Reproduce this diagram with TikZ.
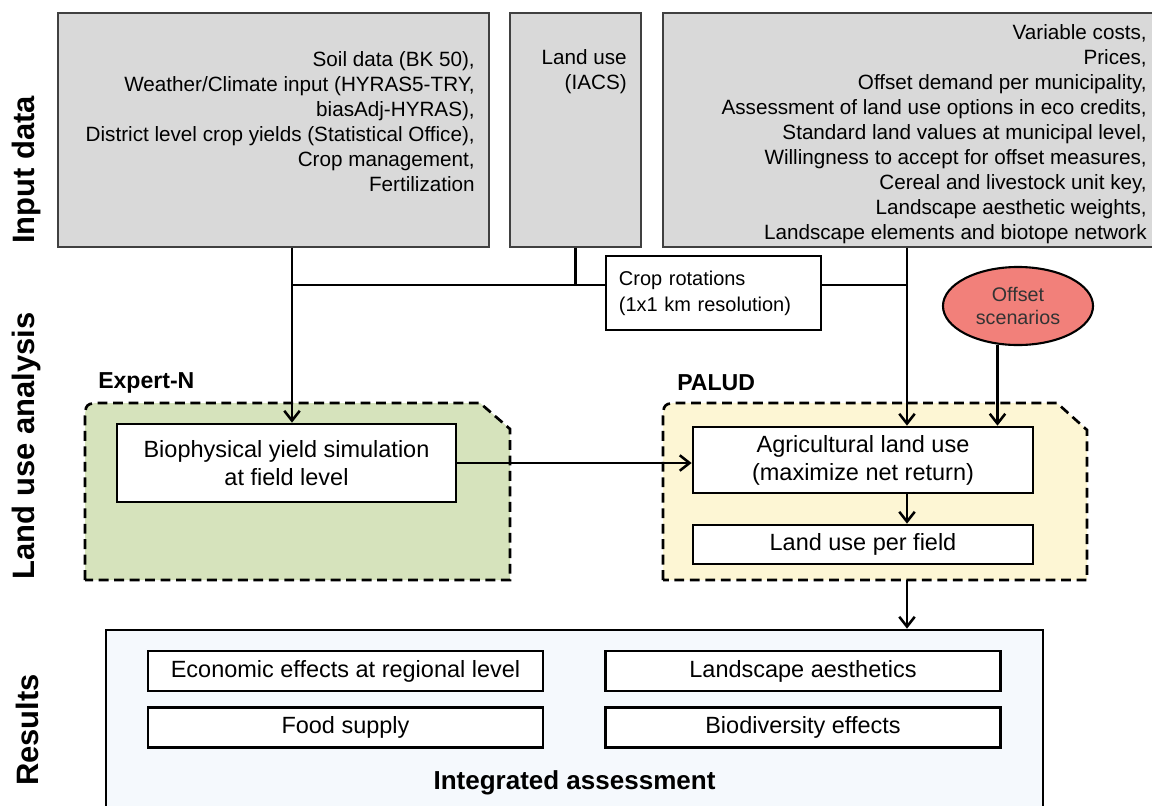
\documentclass[tikz,border=0pt]{standalone}
\usepackage{fontspec}
\setmainfont{Liberation Sans}
\usepackage{xcolor}
\usepackage{tikz}
\usetikzlibrary{shapes.geometric, arrows.meta, positioning, calc}
\definecolor{mygray}{RGB}{217,217,217}
\definecolor{mygreen}{RGB}{214,227,188}
\definecolor{myyellow}{RGB}{253,246,212}
\definecolor{myred}{RGB}{242,128,122}
\definecolor{myblue}{RGB}{245,249,253}
\tikzstyle{inbox} = [rectangle, draw=black!75, line width=0.9pt, fill=mygray, inner sep=0pt]
\tikzstyle{intext} = [font=\fontsize{14.7}{17.8}\selectfont, align=right, inner sep=0pt]
\tikzstyle{model} = [rectangle, draw=black, line width=1.9pt, fill=white, font=\fontsize{16.7}{19.9}\selectfont, align=center]
\tikzstyle{resbox} = [model, minimum width=9.875cm, minimum height=1.0cm]
\tikzstyle{region} = [dash pattern=on 7pt off 4pt, line width=1.9pt]
\tikzstyle{tag} = [font=\fontsize{16.4}{20}\selectfont\bfseries, anchor=west, inner sep=0pt]
\tikzstyle{section} = [font=\fontsize{22}{26}\selectfont\bfseries, rotate=90]
\tikzstyle{link} = [line width=1.8pt]
\tikzstyle{arrow} = [link, -{Straight Barb[length=7pt, width=11pt]}]

\begin{document}
\begin{tikzpicture}[x=0.025cm, y=-0.025cm]
    \useasboundingbox (0,0) rectangle (1152,805);
    \fill[white] (0,0) rectangle (1152,805);
    % input data
    \node[inbox, minimum width=10.775cm, minimum height=5.85cm] (soil) at (273.5,130) {};
    \node[intext, anchor=east] (soiltext) at (475,121.5) {Soil data (BK 50),\\ Weather/Climate input (HYRAS5-TRY,\\ biasAdj-HYRAS),\\ District level crop yields (Statistical Office),\\ Crop management,\\ Fertilization};
    \node[inbox, minimum width=3.275cm, minimum height=5.85cm] (landuse) at (575.5,130) {};
    \node[intext, anchor=east] (landusetext) at (627,71.5) {Land use\\ (IACS)};
    \node[inbox, minimum width=12.3cm, minimum height=5.85cm] (market) at (909,130) {};
    \node[intext, anchor=east] (markettext) at (1147,134) {Variable costs,\\ Prices,\\ Offset demand per municipality,\\ Assessment of land use options in eco credits,\\ Standard land values at municipal level,\\ Willingness to accept for offset measures,\\ Cereal and livestock unit key,\\ Landscape aesthetic weights,\\ Landscape elements and biotope network};
    \node[model, line width=1.6pt, minimum width=5.375cm, minimum height=1.85cm, text width=4.725cm, inner xsep=0pt, align=left, font=\fontsize{14.2}{18.5}\selectfont] (crop) at (713.5,293) {Crop rotations\\ (1x1 km resolution)};
    \node[ellipse, draw=black, line width=1.5pt, fill=myred, minimum width=3.75cm, minimum height=1.95cm, inner sep=0pt, align=center, text=black!80, font=\fontsize{14}{16.4}\selectfont] (offset) at (1018,306) {Offset\\ scenarios};
    \coordinate (jl) at (292,285);
    \coordinate (jr) at (907,285);

    % land use analysis
    \filldraw[region, fill=mygreen] (85,580) -- (85,423) .. controls (85,403) .. (105,403) -- (480,403) -- (510,429) -- (510,580) -- cycle;
    \filldraw[region, fill=myyellow] (663,580) -- (663,423) .. controls (663,403) .. (683,403) -- (1057,403) -- (1087,430) -- (1087,580) -- cycle;
    \node[tag] (expertn) at (98,383) {Expert-N};
    \node[tag] (palud) at (677,383) {PALUD};
    \node[model, minimum width=8.475cm, minimum height=1.95cm] (bio) at (286.5,463) {Biophysical yield simulation\\ at field level};
    \node[model, minimum width=8.5cm, minimum height=1.65cm] (agri) at (863,460) {Agricultural land use\\ (maximize net return)};
    \node[model, minimum width=8.5cm, minimum height=0.975cm] (lupf) at (863,544.5) {Land use per field};
    \coordinate (paludout) at (907,580);

    % results
    \node[rectangle, draw=black, line width=1.9pt, fill=myblue, minimum width=23.425cm, minimum height=4.625cm] (results) at (574.5,722.5) {};
    \node[resbox] (econ) at (345.5,671) {Economic effects at regional level};
    \node[resbox] (food) at (345.5,727.5) {Food supply};
    \node[resbox] (aesth) at (803,671) {Landscape aesthetics};
    \node[resbox] (biodiv) at (803,727.5) {Biodiversity effects};
    \node[font=\fontsize{18.5}{22}\selectfont\bfseries] (integ) at (574.5,783) {Integrated assessment};

    \node[section] (lblin) at (27,170) {Input data};
    \node[section] (lbllua) at (27,446) {Land use analysis};
    \node[section] (lblres) at (27,730) {Results};

    % connectors
    \draw[link] (soil.south -| jl) -- (jl) -- (crop.west |- jl);
    \draw[link] (landuse.south) -- (landuse.south |- jl);
    \draw[link] (crop.east |- jr) -- (jr);
    \draw[arrow] (soil.south -| jl) -- (bio.north -| jl);
    \draw[arrow] (market.south -| jr) -- (agri.north -| jr);
    \draw[arrow] (offset.-118) -- (offset.-118 |- agri.north);
    \draw[arrow] (bio.east) -- (bio.east -| agri.west);
    \draw[arrow] (agri.south -| jr) -- (lupf.north -| jr);
    \draw[arrow] (paludout) -- (paludout |- results.north);
\end{tikzpicture}
\end{document}
